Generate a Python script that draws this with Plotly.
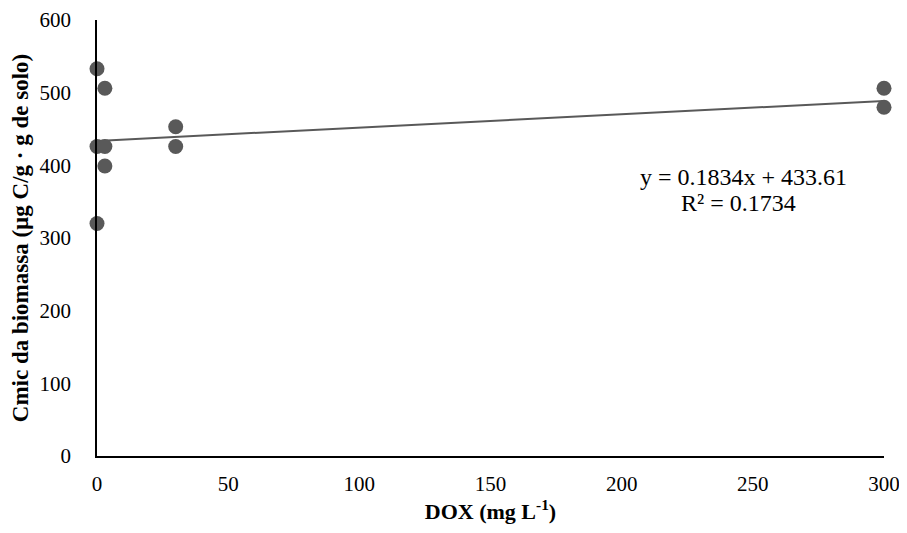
import plotly.graph_objects as go

dox = [0, 0, 0, 3, 3, 3, 30, 30, 300, 300]
cmic = [533, 426, 320, 506, 426, 399, 453, 426, 506, 480]
slope = 0.1834
intercept = 433.61
r2 = 0.1734
x_ticks = [0, 50, 100, 150, 200, 250, 300]
y_ticks = [0, 100, 200, 300, 400, 500, 600]

trend_x = [0, 300]
trend_y = [intercept + slope * v for v in trend_x]

font_family = "Liberation Serif, Times New Roman, serif"

fig = go.Figure()
fig.add_trace(go.Scatter(
    x=trend_x, y=trend_y, mode="lines",
    line=dict(color="#595959", width=2),
    hoverinfo="skip", showlegend=False, cliponaxis=False))
fig.add_trace(go.Scatter(
    x=dox, y=cmic, mode="markers",
    marker=dict(color="#595959", size=15, line=dict(width=0)),
    showlegend=False, cliponaxis=False))

fig.add_annotation(
    x=0.822, y=0.64, xref="paper", yref="paper",
    xanchor="center", yanchor="middle",
    text=f"y = {slope}x + {intercept}",
    showarrow=False, font=dict(family=font_family, size=24, color="black"))
fig.add_annotation(
    x=0.815, y=0.58, xref="paper", yref="paper",
    xanchor="center", yanchor="middle",
    text=f"R² = {r2}",
    showarrow=False, font=dict(family=font_family, size=24, color="black"))

# page body has an 8px margin, so the figure is sized to fit inside it
fig.update_layout(
    width=897, height=517,
    margin=dict(l=89, r=21, t=12, b=69),
    paper_bgcolor="white", plot_bgcolor="white",
    font=dict(family=font_family, size=21, color="black"),
    xaxis=dict(
        range=[0, 300], tickvals=x_ticks, showgrid=False, zeroline=False,
        showline=True, linecolor="black", linewidth=1.5, ticks="",
        automargin=False, ticklabelstandoff=8, ticklabeloverflow="allow",
        tickfont=dict(size=21),
        title=dict(text="<b>DOX (mg L<sup>-1</sup>)</b>", font=dict(size=22), standoff=9)),
    yaxis=dict(
        range=[0, 600], tickvals=y_ticks, showgrid=False, zeroline=False,
        showline=True, linecolor="black", linewidth=1.5, ticks="",
        automargin=False, ticklabelstandoff=20, ticklabeloverflow="allow",
        tickfont=dict(size=21),
        title=dict(text="<b>Cmic da biomassa (µg C/g · g de solo)</b>", font=dict(size=23), standoff=10)),
)

fig.write_html("out.html")
